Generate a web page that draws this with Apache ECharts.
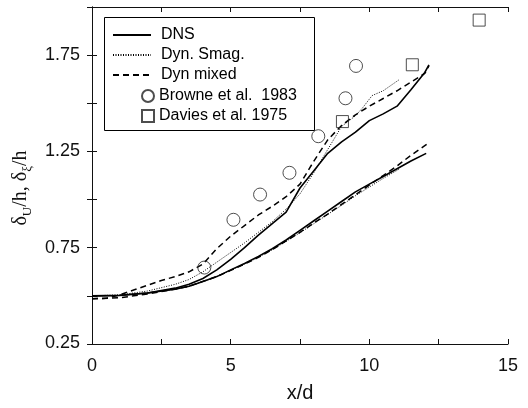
<!DOCTYPE html>
<html>
<head>
<meta charset="utf-8">
<script src="https://cdn.jsdelivr.net/npm/echarts@6/dist/echarts.min.js"></script>
<style>html,body{margin:0;padding:0;background:#fff}#c{width:528px;height:408px}</style>
</head>
<body>
<div id="c"></div>
<script>
// ---- data ----
const xTicks = [0, 5, 10, 15];
const yTicks = [0.25, 0.75, 1.25, 1.75];

// delta_U family (upper curves)
const xU_dns = [0,1,2,3,3.5,4,4.5,5,5.5,6,6.5,7,7.5,8,8.5,9,9.5,10,10.5,11,11.5,12,12.15];
const yU_dns = [0.50,0.502,0.515,0.54,0.56,0.59,0.635,0.69,0.75,0.815,0.875,0.935,1.06,1.15,1.24,1.30,1.35,1.41,1.445,1.485,1.57,1.66,1.70];
const xU_smag = [0,1,2,3,3.5,4,4.5,5,5.5,6,6.5,7,7.5,8,8.5,9,9.5,9.75,10.1,10.5,11.1];
const yU_smag = [0.50,0.505,0.525,0.56,0.585,0.625,0.675,0.725,0.775,0.83,0.885,0.95,1.03,1.14,1.26,1.38,1.435,1.475,1.54,1.565,1.625];
const xU_mix = [0,0.5,1,1.5,2,2.5,3,3.5,4,4.5,5,5.5,6,6.5,7,7.5,8,8.5,9,9.5,10,10.5,11,11.5,12,12.15];
const yU_mix = [0.485,0.487,0.505,0.53,0.555,0.58,0.60,0.625,0.665,0.745,0.81,0.865,0.92,0.965,1.015,1.08,1.20,1.31,1.385,1.44,1.485,1.525,1.565,1.61,1.655,1.695];

// delta_xi family (lower curves)
const xX_dns = [0,1,2,3,3.5,4,4.5,5,5.5,6,6.5,7,7.5,8,8.5,9,9.5,10,10.5,11,11.5,12.05];
const yX_dns = [0.50,0.503,0.515,0.535,0.55,0.575,0.60,0.635,0.668,0.705,0.745,0.79,0.84,0.89,0.94,0.99,1.04,1.08,1.12,1.16,1.20,1.24];
const xX_smag = [0,1,2,3,3.5,4,4.5,5,5.5,6,6.5,7,7.5,8,8.5,9,9.5,10,10.5,11.1];
const yX_smag = [0.50,0.503,0.515,0.535,0.55,0.575,0.60,0.633,0.665,0.70,0.74,0.783,0.828,0.875,0.923,0.97,1.02,1.065,1.11,1.16];
const xX_mix = [0,1,2,3,3.5,4,4.5,5,5.5,6,6.5,7,7.5,8,8.5,9,9.5,10,10.5,11,11.5,12,12.15];
const yX_mix = [0.485,0.49,0.51,0.535,0.55,0.575,0.60,0.632,0.665,0.70,0.74,0.785,0.83,0.878,0.925,0.975,1.025,1.075,1.125,1.175,1.23,1.28,1.295];

// experiments
const xBrowne = [4.05,5.1,6.06,7.12,8.16,9.14,9.52];
const yBrowne = [0.647,0.895,1.026,1.139,1.329,1.526,1.694];
const xDavies = [9.03,11.55,13.96];
const yDavies = [1.405,1.70,1.932];

const zip = (xs, ys) => xs.map((x, i) => [x, ys[i]]);

const FONT = '"Liberation Sans", Arial, Helvetica, sans-serif';
const SERIF = '"Liberation Serif", "Times New Roman", serif';
const axisCol = '#111';

const chart = echarts.init(document.getElementById('c'), null, {renderer: 'canvas'});

const solid = {color: '#000', width: 1.6, type: 'solid'};
const dotted = {color: '#000', width: 1, type: [1, 1.5]};
const dashed = {color: '#000', width: 1.5, type: [6, 4]};

function line(name, data, ls) {
  return {name, type: 'line', data, symbol: 'none', showSymbol: false, lineStyle: ls,
          itemStyle: {color: '#000'}, silent: true, animation: false, z: 3};
}

const option = {
  animation: false,
  grid: {left: 92, right: 20, top: 7, bottom: 54, containLabel: false},
  xAxis: [{
    type: 'value', min: 0, max: 15, interval: 2.5,
    axisLine: {lineStyle: {color: axisCol, width: 1}},
    axisTick: {inside: true, length: 5, lineStyle: {color: axisCol}},
    splitLine: {show: false},
    axisLabel: {margin: 13, fontFamily: FONT, fontSize: 18, color: '#111',
      formatter: v => (xTicks.indexOf(v) >= 0 ? String(v) : '')},
    name: 'x/d', nameLocation: 'middle', nameGap: 39,
    nameTextStyle: {fontFamily: FONT, fontSize: 20, color: '#111'}
  }, {
    type: 'value', min: 0, max: 15, interval: 2.5, position: 'top',
    axisLine: {show: true, lineStyle: {color: axisCol, width: 1}},
    axisTick: {inside: true, length: 5, lineStyle: {color: axisCol}},
    axisLabel: {show: false}, splitLine: {show: false}
  }],
  yAxis: [{
    type: 'value', min: 0.25, max: 2.0, interval: 0.25,
    axisLine: {show: true, lineStyle: {color: axisCol, width: 1}},
    axisTick: {inside: true, length: 5, lineStyle: {color: axisCol}},
    splitLine: {show: false},
    axisLabel: {margin: 12, fontFamily: FONT, fontSize: 18, color: '#111',
      formatter: v => {
        const r = Math.round(v * 100) / 100;
        if (yTicks.indexOf(r) < 0) return '';
        const s = r.toFixed(2);
        return r === 0.25 ? '{up|' + s + '}' : s;
      },
      rich: {up: {fontFamily: FONT, fontSize: 18, color: '#111', padding: [0, 0, 2, 0]}}
    },
    name: '{a|δ}{b|U}{a|/h, δ}{b|ξ}{a|/h}{a|     }', nameLocation: 'middle', nameGap: 58, nameRotate: 90,
    nameTextStyle: {
      rich: {
        a: {fontFamily: SERIF, fontSize: 20, color: '#111', lineHeight: 26, verticalAlign: 'middle'},
        b: {fontFamily: SERIF, fontSize: 13, color: '#111', lineHeight: 26, verticalAlign: 'bottom'}
      }
    }
  }, {
    type: 'value', min: 0.25, max: 2.0, interval: 0.25, position: 'right',
    axisLine: {show: true, lineStyle: {color: axisCol, width: 1}},
    axisTick: {inside: true, length: 5, lineStyle: {color: axisCol}},
    axisLabel: {show: false}, splitLine: {show: false}
  }],
  legend: [{
    data: ['DNS', 'Dyn. Smag.', 'Dyn mixed'],
    orient: 'vertical', left: 112, top: 25, padding: 0,
    itemWidth: 38, itemHeight: 14, itemGap: 0,
    selectedMode: false,
    itemStyle: {color: 'rgba(0,0,0,0)', borderWidth: 0, opacity: 0},
    textStyle: {fontFamily: FONT, fontSize: 16, color: '#000', lineHeight: 20, padding: [0, 0, 0, 5]}
  }, {
    data: ['Browne et al.  1983', 'Davies et al. 1975'],
    orient: 'vertical', left: 141, top: 86, padding: 0,
    itemWidth: 12, itemHeight: 12, itemGap: 0,
    selectedMode: false,
    textStyle: {fontFamily: FONT, fontSize: 16, color: '#000', lineHeight: 20}
  }],
  graphic: [{
    type: 'rect', left: 102, top: 15, z: 10, silent: true,
    shape: {width: 210, height: 113},
    style: {fill: 'none', stroke: '#000', lineWidth: 1}
  }],
  series: [
    line('DNS', zip(xU_dns, yU_dns), solid),
    line('Dyn. Smag.', zip(xU_smag, yU_smag), dotted),
    line('Dyn mixed', zip(xU_mix, yU_mix), dashed),
    line('DNS', zip(xX_dns, yX_dns), solid),
    line('Dyn. Smag.', zip(xX_smag, yX_smag), dotted),
    line('Dyn mixed', zip(xX_mix, yX_mix), dashed),
    {name: 'Browne et al.  1983', type: 'scatter', data: zip(xBrowne, yBrowne),
     symbol: 'circle', symbolSize: 13, z: 4,
     itemStyle: {color: 'rgba(0,0,0,0)', borderColor: '#222', borderWidth: 1}},
    {name: 'Davies et al. 1975', type: 'scatter', data: zip(xDavies, yDavies),
     symbol: 'rect', symbolSize: 12, z: 4,
     itemStyle: {color: 'rgba(0,0,0,0)', borderColor: '#222', borderWidth: 1}}
  ]
};
chart.setOption(option);
</script>
</body>
</html>
